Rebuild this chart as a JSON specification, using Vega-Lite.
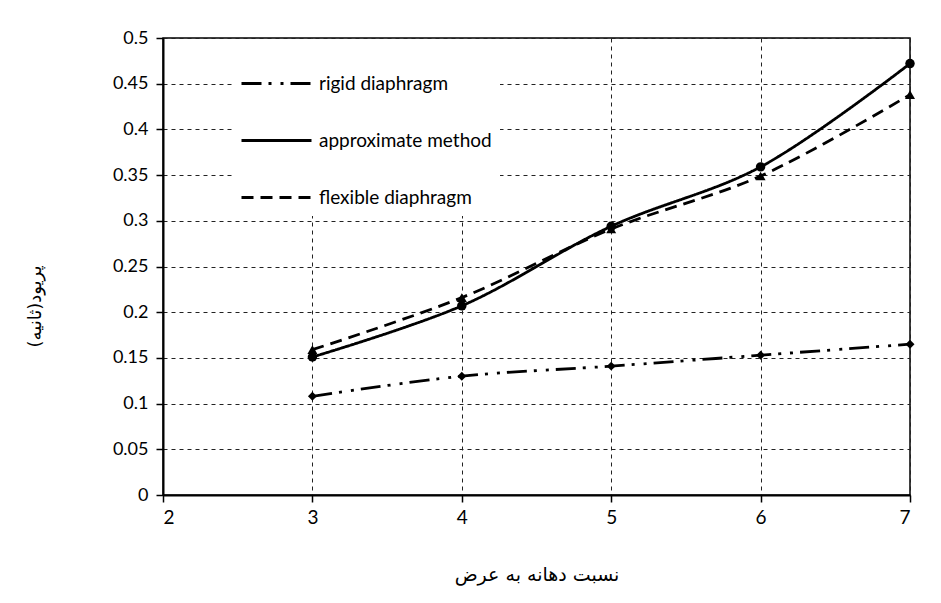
{
  "$schema": "https://vega.github.io/schema/vega-lite/v6.json",
  "autosize": "none",
  "width": 747,
  "height": 457,
  "padding": {"left": 163, "top": 38, "right": 31, "bottom": 108},
  "background": "white",
  "config": {
    "view": {"stroke": "black", "strokeWidth": 1.5},
    "font": "Lato"
  },
  "data": {
    "values": [
      {"ratio": 3, "period": 0.108, "series": "rigid diaphragm"},
      {"ratio": 4, "period": 0.130, "series": "rigid diaphragm"},
      {"ratio": 5, "period": 0.141, "series": "rigid diaphragm"},
      {"ratio": 6, "period": 0.153, "series": "rigid diaphragm"},
      {"ratio": 7, "period": 0.165, "series": "rigid diaphragm"},
      {"ratio": 3, "period": 0.151, "series": "approximate method"},
      {"ratio": 4, "period": 0.207, "series": "approximate method"},
      {"ratio": 5, "period": 0.294, "series": "approximate method"},
      {"ratio": 6, "period": 0.359, "series": "approximate method"},
      {"ratio": 7, "period": 0.472, "series": "approximate method"},
      {"ratio": 3, "period": 0.159, "series": "flexible diaphragm"},
      {"ratio": 4, "period": 0.216, "series": "flexible diaphragm"},
      {"ratio": 5, "period": 0.291, "series": "flexible diaphragm"},
      {"ratio": 6, "period": 0.349, "series": "flexible diaphragm"},
      {"ratio": 7, "period": 0.438, "series": "flexible diaphragm"}
    ]
  },
  "encoding": {
    "x": {
      "field": "ratio", "type": "quantitative",
      "scale": {"domain": [2, 7], "nice": false},
      "axis": {
        "title": "نسبت دهانه به عرض", "titleFont": "DejaVu Sans", "titleFontSize": 19, "titleFontWeight": "normal", "titleColor": "black", "titlePadding": 38,
        "values": [2, 3, 4, 5, 6, 7], "format": "d",
        "labelFontSize": 19, "labelColor": "black", "labelPadding": 6,
        "domainColor": "black", "domainWidth": 2, "tickColor": "black", "tickSize": 7, "tickWidth": 1.5,
        "grid": true, "gridColor": "#222", "gridDash": [4, 4], "gridWidth": 1
      }
    },
    "y": {
      "field": "period", "type": "quantitative",
      "scale": {"domain": [0, 0.5], "nice": false},
      "axis": {
        "title": "پریود(ثانیه)", "titleFont": "DejaVu Sans", "titleFontSize": 18, "titleFontWeight": "normal", "titleColor": "black", "titlePadding": 68, "titleY": 268,
        "values": [0, 0.05, 0.1, 0.15, 0.2, 0.25, 0.3, 0.35, 0.4, 0.45, 0.5], "format": ".2~f",
        "labelFontSize": 18, "labelColor": "black", "labelPadding": 8,
        "domainColor": "black", "domainWidth": 2, "tickColor": "black", "tickSize": 7, "tickWidth": 1.5,
        "grid": true, "gridColor": "#222", "gridDash": [4, 4], "gridWidth": 1
      }
    }
  },
  "resolve": {"legend": {"strokeDash": "independent", "shape": "independent", "size": "independent"}},
  "layer": [
    {
      "mark": {"type": "line", "interpolate": "catmull-rom", "color": "black", "strokeWidth": 2.8},
      "encoding": {
        "detail": {"field": "series"},
        "strokeDash": {
          "field": "series", "type": "nominal",
          "scale": {"domain": ["rigid diaphragm", "approximate method", "flexible diaphragm"], "range": [[20, 7, 3, 9, 3, 7], [1, 0], [12, 7]]},
          "legend": {
            "title": null, "orient": "none", "legendX": 69, "legendY": 1,
            "fillColor": "white", "padding": 8,
            "symbolType": "stroke", "symbolSize": 4900, "symbolStrokeWidth": 3, "symbolStrokeColor": "black",
            "labelFontSize": 19, "labelColor": "black", "labelOffset": 6, "rowPadding": 10, "labelLimit": 300
          }
        }
      }
    },
    {
      "mark": {"type": "point", "filled": true, "color": "black", "opacity": 1},
      "encoding": {
        "shape": {
          "field": "series", "type": "nominal",
          "scale": {"domain": ["rigid diaphragm", "approximate method", "flexible diaphragm"], "range": ["diamond", "circle", "triangle-up"]},
          "legend": null
        },
        "size": {
          "field": "series", "type": "nominal",
          "scale": {"domain": ["rigid diaphragm", "approximate method", "flexible diaphragm"], "range": [80, 100, 100]},
          "legend": null
        }
      }
    }
  ]
}
